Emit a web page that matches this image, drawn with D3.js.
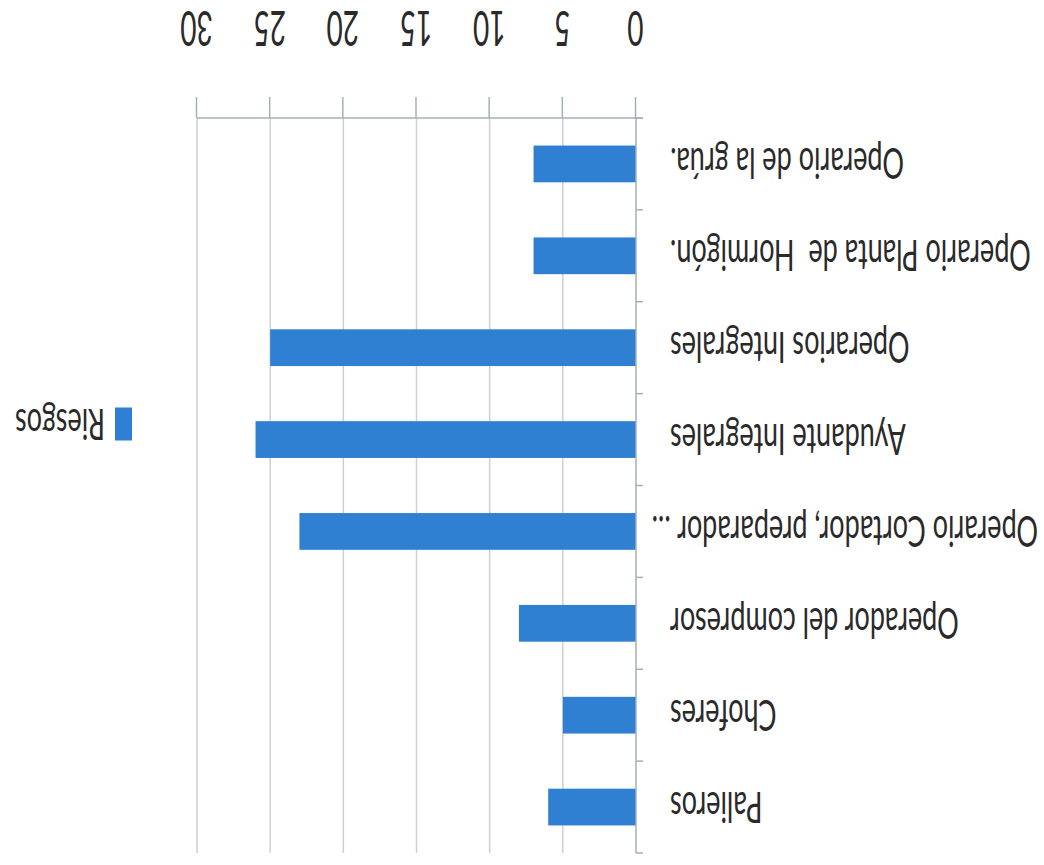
<!DOCTYPE html>
<html>
<head>
<meta charset="utf-8">
<script src="https://cdn.jsdelivr.net/npm/d3@7"></script>
<style>
  html, body { margin: 0; padding: 0; background: #fff; }
  text { font-family: Lato, "Open Sans", sans-serif; font-weight: 400; fill: #2a2a2a; white-space: pre; }
</style>
</head>
<body>
<div id="chart"></div>
<script>
  const categories = [
    "Palieros",
    "Choferes",
    "Operador del compresor",
    "Operario Cortador, preparador ...",
    "Ayudante Integrales",
    "Operarios Integrales",
    "Operario Planta de  Hormigón.",
    "Operario de la grúa."
  ];
  const riesgos = [6, 5, 8, 23, 26, 25, 7, 7];
  const tickValues = [0, 5, 10, 15, 20, 25, 30];
  const seriesName = "Riesgos";

  const width = 1044, height = 865;
  const plot = { left: 408, right: 847, top: 12, bottom: 747 };
  const barColor = "#2f7fd2";
  const stretch = 1.6; // the scan is stretched vertically
  const fontSize = 27;

  const svg = d3.select("#chart").append("svg")
    .attr("width", width)
    .attr("height", height);

  // the whole chart is drawn normally and then turned upside down
  const g = svg.append("g")
    .attr("transform", `rotate(180 ${width / 2} ${height / 2})`);

  const x = d3.scaleLinear().domain([0, 30]).range([plot.left, plot.right]);
  const y = d3.scaleBand()
    .domain(categories)
    .range([plot.top, plot.bottom])
    .paddingInner(0.6)
    .paddingOuter(0.3);

  // gridlines
  g.append("g")
    .selectAll("line")
    .data(tickValues.slice(1))
    .join("line")
      .attr("x1", d => x(d)).attr("x2", d => x(d))
      .attr("y1", plot.top).attr("y2", plot.bottom)
      .attr("stroke", "#cdd1d4")
      .attr("stroke-width", 1.5);

  // bars
  g.append("g")
    .selectAll("rect")
    .data(categories)
    .join("rect")
      .attr("x", x(0))
      .attr("y", d => y(d))
      .attr("width", (d, i) => x(riesgos[i]) - x(0))
      .attr("height", y.bandwidth())
      .attr("fill", barColor);

  // value axis (bottom)
  const xAxis = g.append("g")
    .attr("transform", `translate(0,${plot.bottom})`)
    .call(d3.axisBottom(x).tickValues(tickValues).tickSize(21).tickSizeOuter(0).tickPadding(0));
  xAxis.select(".domain").remove();
  xAxis.selectAll(".tick line").attr("stroke", "#a4b0ba").attr("stroke-width", 1.5);
  xAxis.selectAll(".tick text").remove();
  xAxis.append("line")
    .attr("x1", x(0) - 7).attr("x2", plot.right)
    .attr("stroke", "#a4b0ba").attr("stroke-width", 1.5);
  xAxis.selectAll(".tick")
    .append("g")
      .attr("transform", `translate(0,90) scale(1,${stretch + 0.1})`)
    .append("text")
      .attr("text-anchor", "middle")
      .attr("dy", "0.36em")
      .style("font-size", "28px")
      .text(d => d);

  // category axis (left)
  const yAxis = g.append("g")
    .attr("transform", `translate(${x(0)},0)`);
  yAxis.append("line")
    .attr("y1", plot.top).attr("y2", plot.bottom)
    .attr("stroke", "#a4b0ba").attr("stroke-width", 1.5);
  const edges = categories.map(c => y(c) - y.step() * y.paddingOuter());
  edges.push(plot.bottom);
  yAxis.selectAll("line.tk")
    .data(edges)
    .join("line")
      .attr("class", "tk")
      .attr("x1", -7).attr("x2", 0)
      .attr("y1", d => d).attr("y2", d => d)
      .attr("stroke", "#a4b0ba").attr("stroke-width", 1.5);

  const labels = g.append("g")
    .selectAll("g")
    .data(categories)
    .join("g")
      .attr("transform", d => `translate(${x(0) - 34},${y(d) + y.bandwidth() / 2}) scale(1,${stretch})`);
  labels.append("text")
      .attr("text-anchor", "end")
      .attr("dy", "0.36em")
      .style("font-size", fontSize + "px")
      .text(d => d);
  // a label too long for the label area starts at the area's edge instead
  labels.each(function(d) {
    const t = d3.select(this).select("text");
    const w = t.node().getComputedTextLength();
    const start = x(0) - 34 - w;
    if (start < 6) {
      d3.select(this).attr("transform", `translate(6,${y(d) + y.bandwidth() / 2}) scale(1,${stretch})`);
      t.attr("text-anchor", "start");
    }
  });

  // legend
  const legend = g.append("g")
    .attr("transform", `translate(912,${(plot.top + plot.bottom) / 2 + 61})`);
  legend.append("rect")
    .attr("x", 0).attr("y", -16)
    .attr("width", 17).attr("height", 33)
    .attr("fill", barColor);
  legend.append("g")
    .attr("transform", `translate(27,0) scale(1,${stretch})`)
    .append("text")
      .attr("dy", "0.36em")
      .style("font-size", fontSize + "px")
      .text(seriesName);
</script>
</body>
</html>
